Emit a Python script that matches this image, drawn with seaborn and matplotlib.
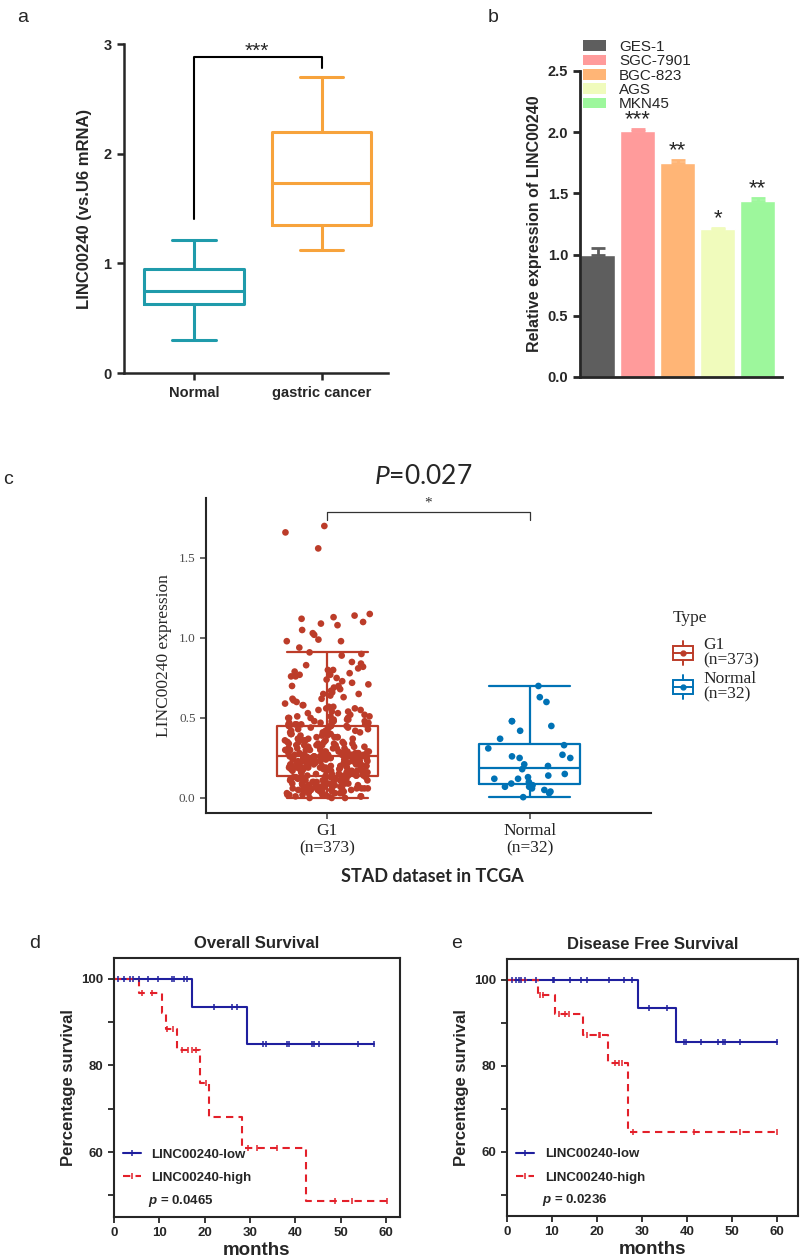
import numpy as np
import pandas as pd
import matplotlib
matplotlib.use("Agg")
import matplotlib.pyplot as plt
import seaborn as sns
from matplotlib.patches import Patch, Rectangle
from matplotlib.lines import Line2D
from matplotlib.legend_handler import HandlerBase

# ---------------- data ----------------
# a: qPCR tissue, summary (min, q1, median, q3, max)
tissue_groups = ["Normal", "gastric cancer"]
normal_stats = [0.30, 0.63, 0.75, 0.95, 1.21]
cancer_stats = [1.12, 1.35, 1.73, 2.20, 2.70]

# b: cell lines
cell_lines = ["GES-1", "SGC-7901", "BGC-823", "AGS", "MKN45"]
cell_expr = [1.00, 2.01, 1.75, 1.21, 1.44]
cell_err = [0.05, 0.02, 0.025, 0.01, 0.025]
cell_stars = ["", "***", "**", "*", "**"]

# c: TCGA STAD, G1 (n=373) and Normal (n=32)
g1_low = [0.00, 0.00, 0.00, 0.01, 0.01, 0.01, 0.01, 0.02, 0.02, 0.02,
          0.02, 0.02, 0.03, 0.03, 0.03, 0.03, 0.03, 0.04, 0.04, 0.04,
          0.04, 0.04, 0.04, 0.05, 0.05, 0.05, 0.05, 0.05, 0.05, 0.06,
          0.06, 0.06, 0.06, 0.06, 0.06, 0.06, 0.07, 0.07, 0.07, 0.07,
          0.07, 0.07, 0.07, 0.07, 0.08, 0.08, 0.08, 0.08, 0.08, 0.08,
          0.08, 0.09, 0.09, 0.09, 0.09, 0.09, 0.09, 0.09, 0.10, 0.10,
          0.10, 0.10, 0.10, 0.10, 0.10, 0.11, 0.11, 0.11, 0.11, 0.11,
          0.11, 0.11, 0.12, 0.12, 0.12, 0.12, 0.12, 0.12, 0.12, 0.13,
          0.13, 0.13, 0.13, 0.13, 0.13, 0.13, 0.14, 0.14, 0.14, 0.14,
          0.14, 0.14, 0.14, 0.14]
g1_mid = [0.14, 0.15, 0.15, 0.15, 0.15, 0.16, 0.16, 0.16, 0.16, 0.16,
          0.17, 0.17, 0.17, 0.17, 0.17, 0.17, 0.18, 0.18, 0.18, 0.18,
          0.18, 0.18, 0.18, 0.19, 0.19, 0.19, 0.19, 0.19, 0.19, 0.19,
          0.19, 0.20, 0.20, 0.20, 0.20, 0.20, 0.20, 0.20, 0.20, 0.21,
          0.21, 0.21, 0.21, 0.21, 0.21, 0.21, 0.21, 0.22, 0.22, 0.22,
          0.22, 0.22, 0.22, 0.22, 0.22, 0.22, 0.23, 0.23, 0.23, 0.23,
          0.23, 0.23, 0.23, 0.23, 0.23, 0.24, 0.24, 0.24, 0.24, 0.24,
          0.24, 0.24, 0.24, 0.24, 0.25, 0.25, 0.25, 0.25, 0.25, 0.25,
          0.25, 0.25, 0.25, 0.25, 0.26, 0.26, 0.26, 0.26, 0.26, 0.26,
          0.26, 0.26]
g1_high = [0.45, 0.45, 0.44, 0.44, 0.44, 0.43, 0.43, 0.43, 0.42, 0.42,
           0.42, 0.41, 0.41, 0.41, 0.40, 0.40, 0.40, 0.40, 0.39, 0.39,
           0.39, 0.38, 0.38, 0.38, 0.38, 0.37, 0.37, 0.37, 0.37, 0.36,
           0.36, 0.36, 0.36, 0.35, 0.35, 0.35, 0.35, 0.34, 0.34, 0.34,
           0.34, 0.34, 0.33, 0.33, 0.33, 0.33, 0.33, 0.32, 0.32, 0.32,
           0.32, 0.32, 0.31, 0.31, 0.31, 0.31, 0.31, 0.30, 0.30, 0.30,
           0.30, 0.30, 0.30, 0.29, 0.29, 0.29, 0.29, 0.29, 0.29, 0.28,
           0.28, 0.28, 0.28, 0.28, 0.28, 0.28, 0.27, 0.27, 0.27, 0.27,
           0.27, 0.27, 0.27, 0.27, 0.26, 0.26, 0.26, 0.26, 0.26, 0.26,
           0.26, 0.26, 0.26, 0.26]
g1_upper = [0.91, 0.90, 0.89, 0.85, 0.84, 0.83, 0.82, 0.81, 0.80, 0.80,
            0.79, 0.78, 0.77, 0.77, 0.76, 0.76, 0.75, 0.74, 0.73, 0.72,
            0.71, 0.70, 0.70, 0.69, 0.68, 0.67, 0.66, 0.65, 0.65, 0.64,
            0.63, 0.62, 0.62, 0.61, 0.60, 0.59, 0.58, 0.58, 0.57, 0.57,
            0.56, 0.56, 0.55, 0.55, 0.54, 0.54, 0.53, 0.53, 0.52, 0.52,
            0.51, 0.51, 0.51, 0.50, 0.50, 0.50, 0.50, 0.49, 0.49, 0.49,
            0.48, 0.48, 0.48, 0.48, 0.47, 0.47, 0.47, 0.47, 0.46, 0.46,
            0.46, 0.46, 0.46, 0.45, 0.45, 0.45]
g1_outliers = [1.70, 1.66, 1.56, 1.15, 1.14, 1.13, 1.12, 1.10, 1.09, 1.08,
               1.05, 1.03, 1.02, 0.99, 0.98, 0.98, 0.94]
normal_tcga = [0.70, 0.63, 0.60, 0.48, 0.48, 0.45, 0.42, 0.37, 0.33, 0.31,
               0.27, 0.26, 0.25, 0.25, 0.21, 0.20, 0.18, 0.15, 0.14, 0.13,
               0.12, 0.12, 0.10, 0.09, 0.08, 0.07, 0.07, 0.06, 0.05, 0.04,
               0.03, 0.005]
tcga_groups = ["G1", "Normal"]
tcga_labels = ["G1\n(n=373)", "Normal\n(n=32)"]

# d: overall survival (step times / survival %, censor times)
os_low_t = [0, 17.1, 29.3, 57.4]
os_low_s = [100, 93.4, 84.9, 84.9]
os_low_cens = [0.95, 2.1, 3.5, 4.1, 5.6, 7.6, 9.6, 12.7, 13.2, 15.4, 16.0,
               22.1, 26.1, 27.2, 32.9, 33.5, 38.1, 38.5, 43.6, 44.2, 45.3,
               53.9, 57.4]
os_high_t = [0, 5.5, 10.5, 11.4, 14.0, 19.0, 21.0, 28.3, 42.4, 60.2]
os_high_s = [100, 96.7, 92.2, 88.4, 83.5, 75.9, 68.2, 60.9, 48.6, 48.6]
os_high_cens = [6.1, 8.3, 11.8, 13.1, 14.9, 16.4, 17.1, 18.2, 20.2,
                29.6, 31.5, 35.9, 48.8, 52.4, 60.2]

# e: disease free survival
dfs_low_t = [0, 29.1, 37.6, 60.0]
dfs_low_s = [100, 93.4, 85.5, 85.5]
dfs_low_cens = [1.1, 1.9, 2.6, 3.1, 3.9, 6.5, 10.2, 10.5, 14.1, 16.5, 17.8,
                22.6, 26.1, 27.8, 31.5, 35.6, 39.3, 39.9, 43.1, 46.9, 48.0,
                48.5, 51.9, 60.0]
dfs_high_t = [0, 6.8, 10.6, 17.0, 22.4, 27.0, 60.0]
dfs_high_s = [100, 96.5, 92.0, 87.0, 80.6, 64.6, 64.6]
dfs_high_cens = [7.4, 8.1, 11.5, 13.0, 13.7, 17.8, 20.4, 20.7, 24.1, 24.8,
                 25.6, 28.1, 41.5, 51.9, 60.0]

# ---------------- style ----------------
sns.set_style("ticks")
plt.rcParams["font.family"] = ["Liberation Sans", "DejaVu Sans"]
plt.rcParams["mathtext.fontset"] = "custom"
plt.rcParams["mathtext.rm"] = "Lato"
plt.rcParams["mathtext.it"] = "Lato:italic"
plt.rcParams["mathtext.bf"] = "Liberation Sans:italic:bold"

teal, orange = "#1f9bab", "#f7a33c"
cell_colors = ["#5e5e5e", "#ff9b9b", "#ffb576", "#f0fbbc", "#9df79c"]
tcga_colors = ["#BC3C29", "#0072B5"]
km_blue, km_red = "#1f1f9e", "#e3202a"

W, H = 800, 1257
fig = plt.figure(figsize=(W / 100, H / 100), dpi=100)


def px_axes(l, t, r, b):
    return fig.add_axes([l / W, 1 - b / H, (r - l) / W, (b - t) / H])


def bold_ticks(ax, size):
    for lbl in ax.get_xticklabels() + ax.get_yticklabels():
        lbl.set_fontweight("bold")
        lbl.set_fontsize(size)


# ---------------- a ----------------
axa = px_axes(124, 44, 388, 373)
dfa = pd.DataFrame({"group": [tissue_groups[0]] * 5 + [tissue_groups[1]] * 5,
                    "value": normal_stats + cancer_stats})
sns.boxplot(data=dfa, x="group", y="value", hue="group", palette=[teal, orange],
            fill=False, width=0.78, whis=(0, 100), linewidth=2.2,
            capwidths=0.34, legend=False, ax=axa)
axa.set_xlim(-0.55, 1.52)
axa.set_ylim(0, 3)
axa.set_yticks([0, 1, 2, 3])
axa.set_xlabel("")
axa.set_ylabel("LINC00240 (vs.U6 mRNA)", fontsize=12, fontweight="bold", labelpad=8)
sns.despine(ax=axa)
for s in ["left", "bottom"]:
    axa.spines[s].set_linewidth(1.8)
axa.tick_params(length=5, width=1.8, pad=4)
bold_ticks(axa, 10.5)
axa.plot([0, 0, 1, 1], [1.40, 2.88, 2.88, 2.78], color="black", lw=1.5, clip_on=False)
axa.text(0.49, 2.85, "***", ha="center", va="bottom", fontsize=15)

# ---------------- b ----------------
axb = px_axes(580, 71, 782, 377)
sns.barplot(x=cell_lines, y=cell_expr, hue=cell_lines, palette=cell_colors,
            saturation=1, width=0.875, legend=False, ax=axb)
for i, (v, e) in enumerate(zip(cell_expr, cell_err)):
    axb.errorbar([i], [v], yerr=[[0], [e]], fmt="none", ecolor=cell_colors[i],
                 elinewidth=2, capsize=5, capthick=2)
for i, st in enumerate(cell_stars):
    axb.text(i, cell_expr[i] + cell_err[i] - 0.01, st, ha="center", va="bottom", fontsize=16)
axb.set_xlim(-0.44, 4.61)
axb.set_ylim(0, 2.5)
axb.set_yticks([0, 0.5, 1.0, 1.5, 2.0, 2.5])
axb.set_yticklabels(["0.0", "0.5", "1.0", "1.5", "2.0", "2.5"])
axb.set_xticks([])
axb.set_ylabel("Relative expression of LINC00240", fontsize=11.5, fontweight="bold")
sns.despine(ax=axb)
for s in ["left", "bottom"]:
    axb.spines[s].set_linewidth(2)
axb.tick_params(axis="y", length=5, width=2)
bold_ticks(axb, 10.5)
axb.legend(handles=[Patch(facecolor=c, edgecolor="none") for c in cell_colors],
           labels=cell_lines, loc="upper left", bbox_to_anchor=(583 / W, 1 - 40 / H),
           bbox_transform=fig.transFigure, frameon=False, fontsize=11,
           handlelength=1.5, handleheight=0.7, labelspacing=0.02,
           handletextpad=0.85, borderpad=0, borderaxespad=0)

# ---------------- c ----------------
axc = px_axes(206, 498, 651, 813)
g1_vals = g1_low + g1_mid + g1_high + g1_upper + g1_outliers
dfc = pd.DataFrame({"group": [tcga_groups[0]] * len(g1_vals) + [tcga_groups[1]] * len(normal_tcga),
                    "value": g1_vals + normal_tcga})
sns.boxplot(data=dfc, x="group", y="value", hue="group", palette=tcga_colors,
            fill=False, width=0.5, whis=1.5, showfliers=False, linewidth=1.6,
            capwidths=0.4, legend=False, ax=axc)
np.random.seed(3)
sns.stripplot(data=dfc, x="group", y="value", hue="group", palette=tcga_colors,
              jitter=0.21, size=4.8, legend=False, ax=axc, zorder=3)
axc.set_xlim(-0.60, 1.60)
axc.set_ylim(-0.094, 1.875)
axc.set_yticks([0, 0.5, 1.0, 1.5])
axc.set_yticklabels(["0.0", "0.5", "1.0", "1.5"])
axc.set_xticks([0, 1])
axc.set_xticklabels(tcga_labels)
axc.set_xlabel("")
axc.set_ylabel("LINC00240 expression", fontsize=12.5, family="Liberation Serif", labelpad=5)
sns.despine(ax=axc)
for s in ["left", "bottom"]:
    axc.spines[s].set_linewidth(1.5)
axc.tick_params(length=4, width=1.2, colors="#4d4d4d", labelsize=9.5)
axc.tick_params(axis="x", labelsize=12.5, labelcolor="#222222")
for lbl in axc.get_xticklabels() + axc.get_yticklabels():
    lbl.set_family("Liberation Serif")
    lbl.set_linespacing(1.05)
axc.plot([0, 0, 1, 1], [1.74, 1.79, 1.79, 1.74], color="#333333", lw=0.9)
axc.text(0.5, 1.80, "*", ha="center", va="bottom", fontsize=11,
         family="Liberation Serif", color="#333333")
fig.text(423 / W, 1 - 476 / H, r"$\mathit{P}$=0.027", ha="center", va="center",
         fontsize=19, family="Lato")
fig.text(432 / W, 1 - 877 / H, "STAD dataset in TCGA", ha="center", va="center",
         fontsize=13, fontweight="bold", family="Lato")


class BoxGlyph(HandlerBase):
    def create_artists(self, legend, orig_handle, xdescent, ydescent,
                       width, height, fontsize, trans):
        col = orig_handle.get_color()
        x0, y0 = -xdescent, -ydescent
        cx, cy = x0 + width / 2, y0 + height / 2
        lw = 1.4
        box = Rectangle((x0, y0 + 0.2 * height), width, 0.6 * height,
                        fill=False, edgecolor=col, lw=lw, transform=trans)
        up = Line2D([cx, cx], [y0 + 0.8 * height, y0 + 1.05 * height], color=col, lw=lw, transform=trans)
        dn = Line2D([cx, cx], [y0 - 0.05 * height, y0 + 0.2 * height], color=col, lw=lw, transform=trans)
        med = Line2D([x0, x0 + width], [cy, cy], color=col, lw=lw, transform=trans)
        dot = Line2D([cx], [cy], marker="o", ms=3.5, color=col, transform=trans)
        return [up, dn, box, med, dot]


legc = axc.legend(handles=[Line2D([], [], color=c) for c in tcga_colors], labels=tcga_labels,
                  handler_map={Line2D: BoxGlyph()}, title="Type", alignment="left",
                  loc="upper left", bbox_to_anchor=(673 / W, 1 - 610 / H),
                  bbox_transform=fig.transFigure, frameon=False,
                  prop={"family": "Liberation Serif", "size": 12.5},
                  title_fontproperties={"family": "Liberation Serif", "size": 12.5},
                  handlelength=1.15, handleheight=1.6, handletextpad=0.6,
                  labelspacing=0.15, borderpad=0, borderaxespad=0)
for t in legc.get_texts():
    t.set_linespacing(0.95)
legc._legend_box.sep = 8


# ---------------- d, e ----------------
def step_at(times, surv, t):
    return surv[np.searchsorted(times, t, side="right") - 1]


def km_panel(ax, title, low_t, low_s, low_c, high_t, high_s, high_c, pval, xmax):
    sns.lineplot(x=low_t, y=low_s, drawstyle="steps-post", color=km_blue, lw=1.5,
                 estimator=None, sort=False, ax=ax)
    sns.lineplot(x=high_t, y=high_s, drawstyle="steps-post", color=km_red, lw=1.5,
                 estimator=None, sort=False, ax=ax)
    ax.lines[-1].set_dashes([3.5, 2.5])
    ax.plot(low_c, [step_at(low_t, low_s, t) for t in low_c], ls="none",
            marker="|", ms=4.5, mew=1.1, color=km_blue)
    ax.plot(high_c, [step_at(high_t, high_s, t) for t in high_c], ls="none",
            marker="|", ms=4.5, mew=1.1, color=km_red)
    ax.set_xlim(0, xmax)
    ax.set_ylim(45, 104.8)
    ax.set_xticks(range(0, 61, 10))
    ax.set_yticks([60, 80, 100])
    ax.set_yticks([50, 70, 90], minor=True)
    for s in ax.spines.values():
        s.set_linewidth(1.5)
    ax.tick_params(which="both", length=4, width=1.3, labelsize=9.5)
    bold_ticks(ax, 9.5)
    ax.set_title(title, fontsize=12, fontweight="bold", pad=7)
    ax.set_xlabel("months", fontsize=13.5, fontweight="bold", labelpad=2)
    ax.set_ylabel("Percentage survival", fontsize=12, fontweight="bold", labelpad=4)
    handles = [Line2D([], [], color=km_blue, lw=1.5, marker="|", ms=4.5, mew=1.1),
               Line2D([], [], color=km_red, lw=1.5, ls=(0, (3.5, 2.5)), marker="|", ms=4.5, mew=1.1)]
    ax.legend(handles=handles, labels=["LINC00240-low", "LINC00240-high"],
              loc="upper left", bbox_to_anchor=(0.03, 0.265), frameon=False,
              prop={"weight": "bold", "size": 9.5}, handlelength=1.4,
              handletextpad=0.8, labelspacing=0.85, borderpad=0, borderaxespad=0)
    ax.text(0.12, 0.062, r"$\mathbf{p}$ = " + pval, transform=ax.transAxes,
            fontsize=9.5, fontweight="bold", va="center")


axd = px_axes(114, 958, 400, 1217)
km_panel(axd, "Overall Survival", os_low_t, os_low_s, os_low_cens,
         os_high_t, os_high_s, os_high_cens, "0.0465", 63.1)
axe = px_axes(507, 959, 798, 1216)
km_panel(axe, "Disease Free Survival", dfs_low_t, dfs_low_s, dfs_low_cens,
         dfs_high_t, dfs_high_s, dfs_high_cens, "0.0236", 64.7)

# panel letters
for letter, (x, y) in {"a": (23, 18), "b": (493, 17), "c": (8, 480),
                       "d": (35, 943), "e": (457, 943)}.items():
    fig.text(x / W, 1 - y / H, letter, fontsize=14, ha="center", va="center")

fig.savefig("out.png", dpi=100)
